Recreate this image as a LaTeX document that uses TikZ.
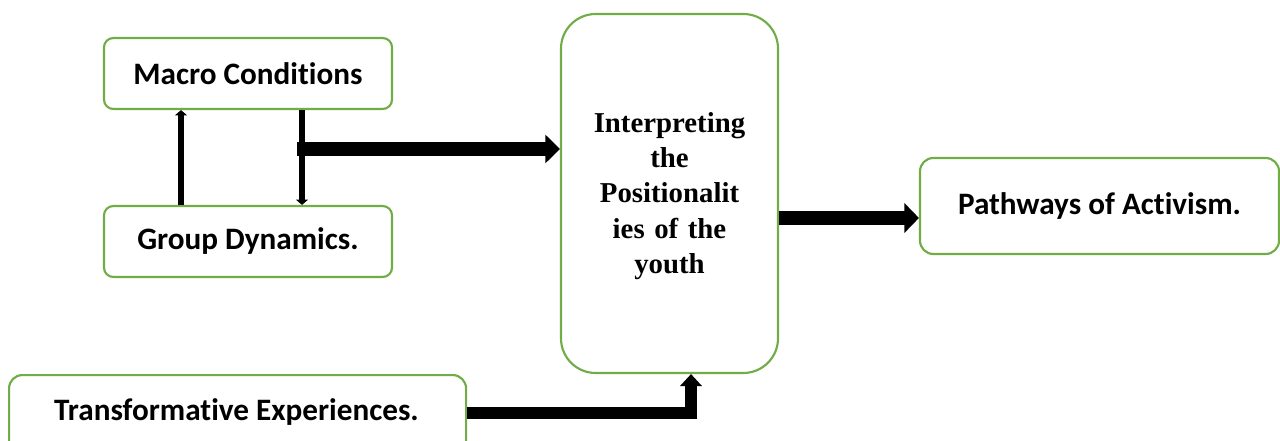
\documentclass[tikz,border=0pt]{standalone}
\usepackage{fontspec}
\setmainfont{Carlito}[Ligatures=NoCommon]
\newfontfamily\serifbold{Liberation Serif}
\usetikzlibrary{arrows.meta}
\definecolor{boxgreen}{HTML}{70AD47}
\begin{document}
\begin{tikzpicture}[x=0.75pt,y=-0.75pt,
  box/.style={draw=boxgreen,line width=1.6pt,fill=white,rounded corners=7pt,inner sep=0pt,
    font=\fontsize{23.4}{28}\selectfont\bfseries,align=center},
  bigbox/.style={draw=boxgreen,line width=1.6pt,fill=white,rounded corners=26pt,inner sep=0pt},
  interptext/.style={font=\serifbold\fontsize{21.6}{26.5}\selectfont\bfseries,align=center,text width=160pt},
  thinarrow/.style={line width=4.5pt,-{Triangle[length=4pt,width=9pt]}},
  thickarrow/.style={line width=10pt,-{Triangle[length=11pt,width=21pt]}},
  elbowarrow/.style={line width=9pt,-{Triangle[length=9pt,width=16pt]}}
]
\useasboundingbox (0,0) rectangle (1280,441);
\node[box,minimum width=288*0.75pt,minimum height=71*0.75pt] (Macro) at (248,73.5) {Macro Conditions};
\node[box,minimum width=288*0.75pt,minimum height=71*0.75pt] (Group) at (248,241.5) {Group Dynamics.};
\node[bigbox,minimum width=217*0.75pt,minimum height=359*0.75pt] (Interp) at (669.5,193.5) {};
\node[interptext] (InterpText) at (669.5,196) {Interpreting\\the\\Positionalit\\ies of the\\youth};
\node[box,minimum width=359*0.75pt,minimum height=96*0.75pt,rounded corners=10pt] (Path) at (1099.5,206) {Pathways of Activism.};
\node[box,minimum width=457*0.75pt,minimum height=80*0.75pt,rounded corners=10pt,anchor=north west] (Trans) at (8,374) {};
\node[font=\fontsize{23.4}{28}\selectfont\bfseries] (TransText) at (236.5,412) {Transformative Experiences.};
\draw[thinarrow] (181,0 |- Group.north) -- (181,0 |- Macro.south);
\draw[thinarrow] (302,0 |- Macro.south) -- (302,0 |- Group.north);
\coordinate (j1) at (297,149);
\draw[thickarrow] (j1) -- (Interp.west |- j1);
\coordinate (j2) at (0,218);
\draw[thickarrow,line width=10.5pt,-{Triangle[length=11pt,width=22pt]}] (Interp.east |- j2) -- (Path.west |- j2);
\coordinate (j3) at (0,413);
\draw[elbowarrow] (Trans.east |- j3) -| (691,0 |- Interp.south);
\end{tikzpicture}
\end{document}
